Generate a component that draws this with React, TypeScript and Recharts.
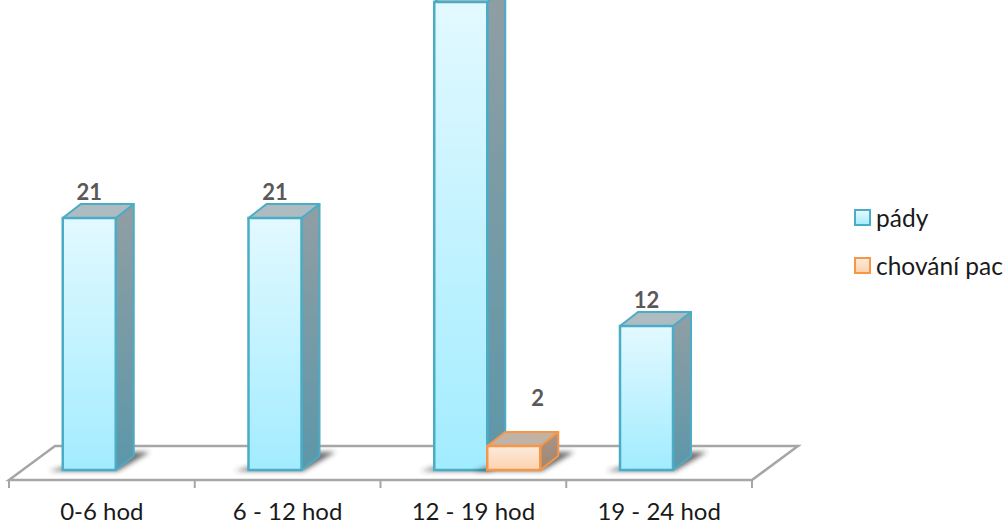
import { BarChart, Bar, XAxis, YAxis, Legend, LabelList, usePlotArea } from 'recharts';

const categories = ['0-6 hod', '6 - 12 hod', '12 - 19 hod', '19 - 24 hod'];
const padyValues = [21, 21, 39, 12];
const chovaniValues = [null, null, 2, null];
const seriesNames = ['pády', 'chování pac'];

const chartData = categories.map((name, i) => ({
  name,
  pady: padyValues[i],
  chovani: chovaniValues[i],
}));

const FONT = 'Lato, sans-serif';
const DEPTH_X = 18;
const DEPTH_Y = 14;
// the columns stand further back on the floor than the category ticks
const BAR_SHIFT = 14;
const FLOOR_DEPTH_X = 46;
const FLOOR_DEPTH_Y = 34;

const blueStyle = {
  stroke: '#4bacc6',
  front: 'url(#blueFront)',
  side: 'url(#blueSide)',
  top: '#aebcc2',
};
const orangeStyle = {
  stroke: '#f79646',
  front: 'url(#orangeFront)',
  side: 'url(#orangeSide)',
  top: '#c0b2a5',
};

function Column(props: any, look: typeof blueStyle) {
  const { x, y, width, height } = props;
  if (!height) return <g />;
  const left = x + BAR_SHIFT;
  const right = left + width;
  const base = y + height;
  return (
    <g>
      <polygon
        points={`${left - 14},${base + 1} ${right + 2},${base + 1} ${right + 34},${base - 18} ${right + 4},${base - 18}`}
        fill="#2e2e2e"
        opacity={0.7}
        filter="url(#floorShadow)"
      />
      <polygon
        points={`${right},${y} ${right + DEPTH_X},${y - DEPTH_Y} ${right + DEPTH_X},${base - DEPTH_Y} ${right},${base}`}
        fill={look.side}
        stroke={look.stroke}
        strokeWidth={2}
        strokeLinejoin="round"
      />
      <polygon
        points={`${left},${y} ${left + DEPTH_X},${y - DEPTH_Y} ${right + DEPTH_X},${y - DEPTH_Y} ${right},${y}`}
        fill={look.top}
        stroke={look.stroke}
        strokeWidth={2}
        strokeLinejoin="round"
      />
      <rect x={left} y={y} width={width} height={height} fill={look.front} stroke={look.stroke} strokeWidth={2.5} />
    </g>
  );
}

// Perspective floor and the tick marks between categories
function Floor() {
  const plot = usePlotArea();
  if (!plot) return null;
  const front = plot.y + plot.height;
  const back = front - FLOOR_DEPTH_Y;
  const left = plot.x;
  const right = plot.x + plot.width;
  const step = plot.width / categories.length;
  return (
    <g>
      <polygon
        points={`${left},${front} ${right},${front} ${right + FLOOR_DEPTH_X},${back} ${left + FLOOR_DEPTH_X},${back}`}
        fill="#ffffff"
        stroke="#a6a6a6"
        strokeWidth={2.5}
      />
      {[0, 1, 2, 3, 4].map((i) => (
        <line
          key={i}
          x1={left + i * step}
          x2={left + i * step}
          y1={front}
          y2={front + 8}
          stroke="#a6a6a6"
          strokeWidth={2}
        />
      ))}
    </g>
  );
}

function ValueLabel(props: any, dx: number, dy: number) {
  const { x, y, width, value } = props;
  // a label that would land above the top edge of the chart stays off
  if (value == null || y + dy < 0) return <g />;
  return (
    <text
      x={x + width / 2 + BAR_SHIFT + dx}
      y={y + dy}
      textAnchor="middle"
      fontFamily={FONT}
      fontWeight={700}
      fontSize={22}
      fill="#595959"
    >
      {value}
    </text>
  );
}

function LegendBlock() {
  const swatches = [
    { name: seriesNames[0], border: '#4bacc6', fill: 'linear-gradient(#e3f9ff, #a8ecff)' },
    { name: seriesNames[1], border: '#f79646', fill: 'linear-gradient(#fdeadb, #fcd2b0)' },
  ];
  return (
    <div style={{ fontFamily: FONT, fontSize: 24.5, color: '#1a1a1a' }}>
      {swatches.map((s) => (
        <div key={s.name} style={{ display: 'flex', alignItems: 'center', height: 48, whiteSpace: 'nowrap' }}>
          <span
            style={{
              display: 'inline-block',
              boxSizing: 'border-box',
              width: 17,
              height: 17,
              marginRight: 5,
              border: `2.5px solid ${s.border}`,
              background: s.fill,
            }}
          />
          {s.name}
        </div>
      ))}
    </div>
  );
}

export default function App() {
  return (
    <div style={{ position: 'absolute', left: 0, top: 0, width: 1008, height: 525, overflow: 'hidden', background: '#fff' }}>
      <BarChart
        width={1008}
        height={525}
        data={chartData}
        margin={{ top: 2, right: 256, bottom: 0, left: 9 }}
        barCategoryGap="21.4%"
        barGap={0}
      >
        <defs>
          <linearGradient id="blueFront" x1="0" y1="0" x2="0" y2="1">
            <stop offset="0%" stopColor="#e3f9ff" />
            <stop offset="100%" stopColor="#a2ecff" />
          </linearGradient>
          <linearGradient id="blueSide" x1="0" y1="0" x2="0" y2="1">
            <stop offset="0%" stopColor="#919ea3" />
            <stop offset="100%" stopColor="#5c97a9" />
          </linearGradient>
          <linearGradient id="orangeFront" x1="0" y1="0" x2="0" y2="1">
            <stop offset="0%" stopColor="#fdeadb" />
            <stop offset="100%" stopColor="#fcd2b0" />
          </linearGradient>
          <linearGradient id="orangeSide" x1="0" y1="0" x2="0" y2="1">
            <stop offset="0%" stopColor="#a8958a" />
            <stop offset="100%" stopColor="#a3866e" />
          </linearGradient>
          <filter id="floorShadow" x="-30%" y="-50%" width="160%" height="200%">
            <feGaussianBlur stdDeviation="2.5" />
          </filter>
        </defs>
        <Floor />
        <XAxis
          dataKey="name"
          height={45}
          axisLine={false}
          tickLine={false}
          tickMargin={17}
          interval={0}
          tick={{ fontFamily: FONT, fontSize: 24, fill: '#1a1a1a' }}
        />
        {/* the axis sits just in front of the zero line, 12px per unit */}
        <YAxis hide domain={[-10 / 12, 39]} />
        <Legend
          layout="vertical"
          align="center"
          verticalAlign="middle"
          wrapperStyle={{ left: 854, top: 193, width: 154 }}
          content={<LegendBlock />}
        />
        <Bar dataKey="pady" name={seriesNames[0]} isAnimationActive={false} shape={(p: any) => Column(p, blueStyle)}>
          <LabelList dataKey="pady" content={(p: any) => ValueLabel(p, 0, -18)} />
        </Bar>
        <Bar dataKey="chovani" name={seriesNames[1]} isAnimationActive={false} shape={(p: any) => Column(p, orangeStyle)}>
          <LabelList dataKey="chovani" content={(p: any) => ValueLabel(p, 24, -40)} />
        </Bar>
      </BarChart>
    </div>
  );
}
